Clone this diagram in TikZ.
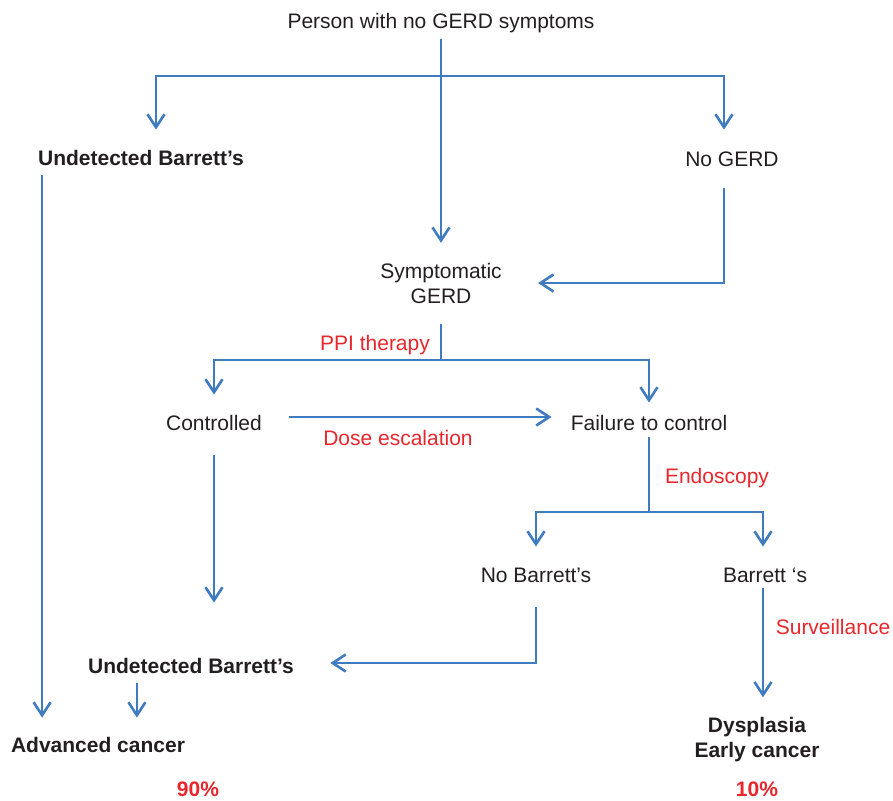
\documentclass[tikz,border=0pt]{standalone}
\usepackage{fontspec}
\setmainfont{Liberation Sans}
\usetikzlibrary{arrows.meta}
\definecolor{3f7bbf}{HTML}{3F7BBF}
\definecolor{e8262c}{HTML}{E8262C}
\definecolor{231f20}{HTML}{231F20}
\begin{document}
\begin{tikzpicture}[x=.5pt,y=-.5pt,>={Straight Barb[length=6.5pt,width=8.5pt]},
    lbl/.style={inner sep=0,anchor=base,text=231f20,font=\fontsize{10.5}{12.5}\selectfont,text height=8pt,text depth=2.5pt},
    bold/.style={lbl,font=\fontsize{10.5}{12.5}\selectfont\bfseries},
    note/.style={lbl,text=e8262c},
    pct/.style={bold,text=e8262c},
    multi/.style={inner sep=0,align=center,text=231f20,font=\fontsize{10.5}{12.5}\selectfont},
    wire/.style={3f7bbf,line width=1.3pt},
    flow/.style={wire,->}]
    \useasboundingbox(0,0)rectangle(893,800);
    \node[lbl](person)at(441,28){Person with no GERD symptoms};
    \node[bold](undet1)at(141,165){Undetected Barrett’s};
    \node[lbl](nogerd)at(732,166){No GERD};
    \node[multi](symp)at(441,283){Symptomatic\\GERD};
    \node[lbl](ctrl)at(214,430){Controlled};
    \node[lbl](fail)at(649,430){Failure to control};
    \node[lbl](nobar)at(536,582){No Barrett’s};
    \node[lbl](bar)at(765,582){Barrett ‘s};
    \node[bold](undet2)at(191,673){Undetected Barrett’s};
    \node[bold](adv)at(98,752){Advanced cancer};
    \node[multi,font=\fontsize{10.5}{12.5}\selectfont\bfseries](dysp)at(757,740){Dysplasia\\Early cancer};
    \node[pct](p90)at(198,796){90\%};
    \node[pct](p10)at(757,796){10\%};
    \node[note](ppi)at(375,350){PPI therapy};
    \node[note](dose)at(398,445){Dose escalation};
    \node[note](endo)at(717,483){Endoscopy};
    \node[note](surv)at(833,634){Surveillance};
    \coordinate(split1)at(441,76);
    \coordinate(split2)at(441,360);
    \coordinate(split3)at(649,512);
    \draw[flow,shorten <=3pt,shorten >=9.8pt](person)--(symp);
    \draw[flow,shorten >=9.5pt](split1)-|([xshift=7.5pt]undet1.north);
    \draw[flow,shorten >=10pt](split1)-|([xshift=-4pt]nogerd.north);
    \draw[flow,shorten <=2.5pt,shorten >=9pt]([xshift=2.2pt]undet1.south west)--([xshift=2.2pt]undet1.south west|-adv.north);
    \draw[flow,shorten <=8.5pt,shorten >=18pt]([xshift=-4pt]nogerd.south)|-(symp.east);
    \draw[wire,shorten <=10pt](symp)--(split2);
    \draw[flow,shorten >=9.5pt](split2)-|(ctrl.north);
    \draw[flow,shorten >=5.5pt](split2)-|(fail.north);
    \draw[flow,shorten <=13.5pt,shorten >=9.4pt]([yshift=3.75pt]ctrl.east)--([yshift=3.75pt]fail.west);
    \draw[flow,shorten <=10pt,shorten >=27pt](ctrl.south)--(ctrl.south|-undet2.north);
    \draw[flow,shorten <=2.5pt,shorten >=9pt]([xshift=24.6pt]undet2.south west)--([xshift=24.6pt]undet2.south west|-adv.north);
    \draw[wire,shorten <=1pt](fail)--(split3);
    \draw[flow,shorten >=9.5pt](split3)-|(nobar.north);
    \draw[flow,shorten >=9.5pt](split3)-|([xshift=-1pt]bar.north);
    \draw[flow,shorten <=10pt,shorten >=18pt](nobar.south)|-([yshift=2.25pt]undet2.east);
    \draw[flow,shorten <=.5pt,shorten >=10pt]([xshift=-1pt]bar.south)--([xshift=-1pt]bar.south|-dysp.north);
\end{tikzpicture}
\end{document}
